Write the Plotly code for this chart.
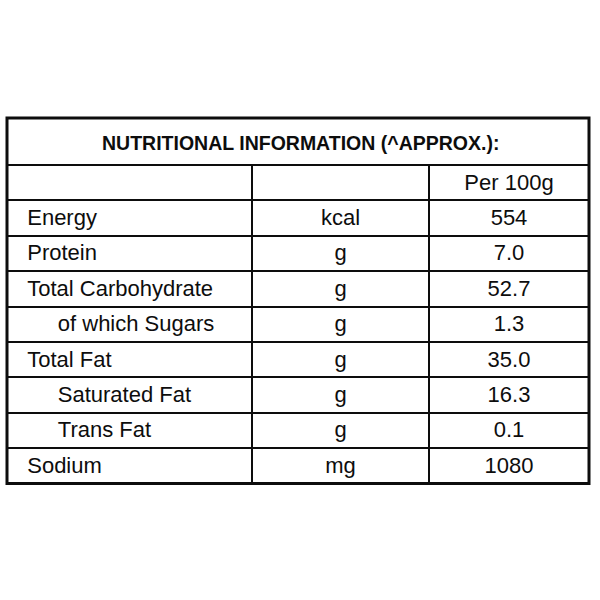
import plotly.graph_objects as go

title = "NUTRITIONAL INFORMATION (^APPROX.):"
column_head = ["", "", "Per 100g"]
nutrients = ["Energy", "Protein", "Total Carbohydrate", "of which Sugars",
             "Total Fat", "Saturated Fat", "Trans Fat", "Sodium"]
indented = [False, False, False, True, False, True, True, False]
units = ["kcal", "g", "g", "g", "g", "g", "g", "mg"]
per_100g = ["554", "7.0", "52.7", "1.3", "35.0", "16.3", "0.1", "1080"]

W, H = 600, 600
left, right, top = 7, 589, 118
title_h = 47
row_h = 35.4
font = "Liberation Sans, Arial, sans-serif"
ink = "#0d0d0d"

pad = "\u00a0"
labels = [pad * (7 if ind else 2) + n for n, ind in zip(nutrients, indented)]

fig = go.Figure()

# title row spanning all columns (border only, text as annotation)
fig.add_trace(go.Table(
    domain=dict(x=[left / W, right / W], y=[0, 1 - top / H]),
    columnwidth=[1],
    header=dict(values=[""], height=title_h,
                line=dict(color=ink, width=2), fill=dict(color="white")),
    cells=dict(values=[[]], height=0, line=dict(color="rgba(0,0,0,0)", width=0)),
))

# body of the table
fig.add_trace(go.Table(
    domain=dict(x=[left / W, right / W], y=[0, 1 - (top + title_h) / H]),
    columnwidth=[245, 177, 160],
    header=dict(values=column_head, height=row_h, align=["left", "center", "center"],
                line=dict(color=ink, width=2), fill=dict(color="white"),
                font=dict(family=font, size=22, color=ink)),
    cells=dict(values=[labels, units, per_100g], height=row_h,
               align=["left", "center", "center"],
               line=dict(color=ink, width=2), fill=dict(color="white"),
               font=dict(family=font, size=22, color=ink)),
))

fig.add_annotation(text=f"<b>{title}</b>", xref="paper", yref="paper",
                   x=(left + right) / 2 / W + 0.005, y=1 - (top + title_h / 2 + 2) / H,
                   xanchor="center", yanchor="middle", showarrow=False,
                   font=dict(family=font, size=19.5, color=ink))

bottom = top + title_h + row_h * (len(nutrients) + 1)
fig.add_shape(type="rect", xref="paper", yref="paper",
              x0=left / W, x1=right / W, y0=1 - bottom / H, y1=1 - top / H,
              line=dict(color=ink, width=3))

fig.update_layout(width=W, height=H, margin=dict(l=0, r=0, t=0, b=0),
                  paper_bgcolor="white", plot_bgcolor="white")
fig.write_html("out.html", config={"displayModeBar": False},
               post_script="document.body.style.margin='0';")
